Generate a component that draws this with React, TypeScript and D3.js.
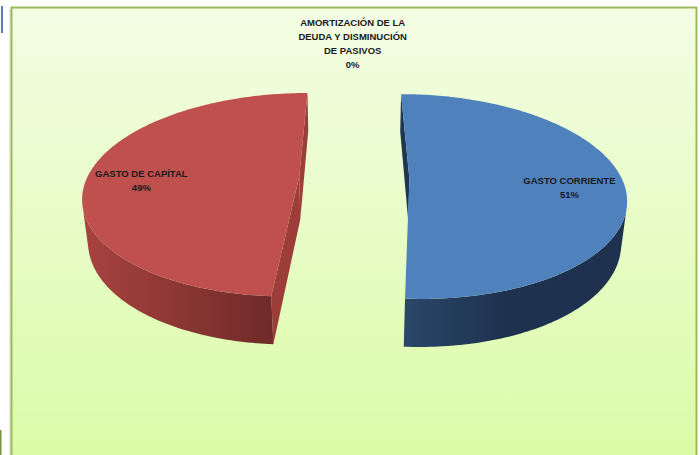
import React from "react";
import * as d3 from "d3";

// chart data
const categories = [
  "GASTO CORRIENTE",
  "GASTO DE CAPÍTAL",
  "AMORTIZACIÓN DE LA DEUDA Y DISMINUCIÓN DE PASIVOS",
];
const values = [51, 49, 0];
const topColors = ["#4f81bd", "#c0504d", "#9bbb59"];
const faceColors = ["#1f3552", "#9d3d3a", "#76923c"];
const wallLight = ["#2b4769", "#a8433f", "#8aa84e"];
const wallDark = ["#1e3250", "#6f2a29", "#5f7a2e"];

const W = 700;
const H = 455;

// 3d view (pie radius = 1)
const view = { cx: 354.2, cy: 177.6, f: 1060, D: 5, tilt: (27.8 * Math.PI) / 180, depth: 0.23, explode: 0.26 };
const cosT = Math.cos(view.tilt);
const sinT = Math.sin(view.tilt);
const camera = [0, view.D * sinT, -view.D * cosT];

const project = (X: number, Y: number, Z: number): [number, number] => {
  const yv = Y * cosT + Z * sinT;
  const dv = view.D + Z * cosT - Y * sinT;
  return [view.cx + (view.f * X) / dv, view.cy - (view.f * yv) / dv];
};

const facing = (n: number[], p: number[]) =>
  n[0] * (camera[0] - p[0]) + n[1] * (camera[1] - p[1]) + n[2] * (camera[2] - p[2]) > 0;

const wrap = (s: string, max = 19) => {
  const lines: string[] = [];
  let cur = "";
  s.split(" ").forEach((w) => {
    if (cur && (cur + " " + w).length > max) {
      lines.push(cur);
      cur = w;
    } else cur = cur ? cur + " " + w : w;
  });
  lines.push(cur);
  return lines;
};

const line = d3.line<[number, number]>().x((d) => d[0]).y((d) => d[1]);
const pct = d3.format(".0%");

export default function App() {
  const total = d3.sum(values);
  const arcs = d3.pie<number>().sort(null).startAngle(0).endAngle(2 * Math.PI)(values);

  const slices = arcs.map((a, i) => {
    const m = (a.startAngle + a.endAngle) / 2;
    const ex = view.explode * Math.sin(m);
    const ez = view.explode * Math.cos(m);
    const steps = Math.max(2, Math.ceil(((a.endAngle - a.startAngle) * 180) / Math.PI));
    const angles = d3.range(steps + 1).map((k) => a.startAngle + ((a.endAngle - a.startAngle) * k) / steps);
    const rim = (t: number, y: number) => project(ex + Math.sin(t), y, ez + Math.cos(t));
    const center = (y: number) => project(ex, y, ez);

    const topPts: [number, number][] = [center(0), ...angles.map((t) => rim(t, 0))];

    // outer wall: keep the segments that face the camera
    const vis: number[] = [];
    for (let k = 0; k < steps; k++) {
      const t = (angles[k] + angles[k + 1]) / 2;
      if (facing([Math.sin(t), 0, Math.cos(t)], [ex + Math.sin(t), 0, ez + Math.cos(t)])) vis.push(k);
    }
    let wallPts: [number, number][] | null = null;
    if (vis.length) {
      const k0 = vis[0];
      const k1 = vis[vis.length - 1] + 1;
      const ts = angles.slice(k0, k1 + 1);
      wallPts = [...ts.map((t) => rim(t, 0)), ...ts.slice().reverse().map((t) => rim(t, -view.depth))];
    }

    // radial faces
    const faces: [number, number][][] = [];
    const a0 = a.startAngle;
    const a1 = a.endAngle;
    if (facing([-Math.cos(a0), 0, Math.sin(a0)], [ex, 0, ez]))
      faces.push([center(0), rim(a0, 0), rim(a0, -view.depth), center(-view.depth)]);
    if (facing([Math.cos(a1), 0, -Math.sin(a1)], [ex, 0, ez]))
      faces.push([center(0), rim(a1, 0), rim(a1, -view.depth), center(-view.depth)]);

    const k = 0.75;
    const labelAt = project(ex + k * Math.sin(m), 0, ez + k * Math.cos(m));
    const xs = wallPts ? wallPts.map((p) => p[0]) : [0, 1];
    return { a, i, topPts, wallPts, faces, labelAt, wx: d3.extent(xs) as [number, number] };
  });

  const rimTop = project(0, 0, 1);

  return (
    <svg width={W} height={H} style={{ position: "absolute", left: 0, top: 0, background: "#fff" }}>
      <defs>
        <linearGradient id="bg" x1="0" y1="0" x2="0" y2="1">
          <stop offset="0" stopColor="#f3fde4" />
          <stop offset="1" stopColor="#dbfba6" />
        </linearGradient>
        {slices.map((s) => (
          <linearGradient key={s.i} id={`wall${s.i}`} gradientUnits="userSpaceOnUse" x1={s.wx[0]} x2={s.wx[1]} y1={0} y2={0}>
            <stop offset="0" stopColor={wallLight[s.i]} />
            <stop offset={s.i === 0 ? 0.45 : 1} stopColor={wallDark[s.i]} />
            <stop offset="1" stopColor={wallDark[s.i]} />
          </linearGradient>
        ))}
      </defs>

      <rect x={1} y={6} width={2} height={27} fill="#4f81bd" />
      <rect x={0} y={430} width={1.5} height={25} fill="#77933c" />
      <rect x={9} y={9} width={688} height={460} fill="#e8e8e8" />
      <rect x={11.5} y={7.5} width={685} height={460} fill="url(#bg)" stroke="#9bbb59" strokeWidth={2} />

      {slices
        .filter((s) => s.a.endAngle - s.a.startAngle > 1e-6)
        .map((s) => (
          <g key={s.i}>
            {s.faces.map((p, j) => (
              <path key={j} d={line(p) + "Z"} fill={faceColors[s.i]} />
            ))}
            {s.wallPts && <path d={line(s.wallPts) + "Z"} fill={`url(#wall${s.i})`} />}
            <path d={line(s.topPts) + "Z"} fill={topColors[s.i]} />
          </g>
        ))}

      <g fontFamily="'Liberation Sans', Arial, sans-serif" fontWeight="bold" fontSize={9.5} fill="#1a1a1a" textAnchor="middle">
        {slices.map((s) => {
          const lines = [...wrap(categories[s.i]), pct(values[s.i] / total)];
          const zero = values[s.i] === 0;
          const x = zero ? rimTop[0] - 1.5 : s.labelAt[0];
          const y0 = zero ? rimTop[1] - 29 - (lines.length - 1) * 14 : s.labelAt[1] + 7 - ((lines.length - 1) * 14) / 2;
          return (
            <text key={s.i} x={x} y={y0} dominantBaseline="middle">
              {lines.map((t, j) => (
                <tspan key={j} x={x} dy={j === 0 ? 0 : 14}>
                  {t}
                </tspan>
              ))}
            </text>
          );
        })}
      </g>
    </svg>
  );
}
